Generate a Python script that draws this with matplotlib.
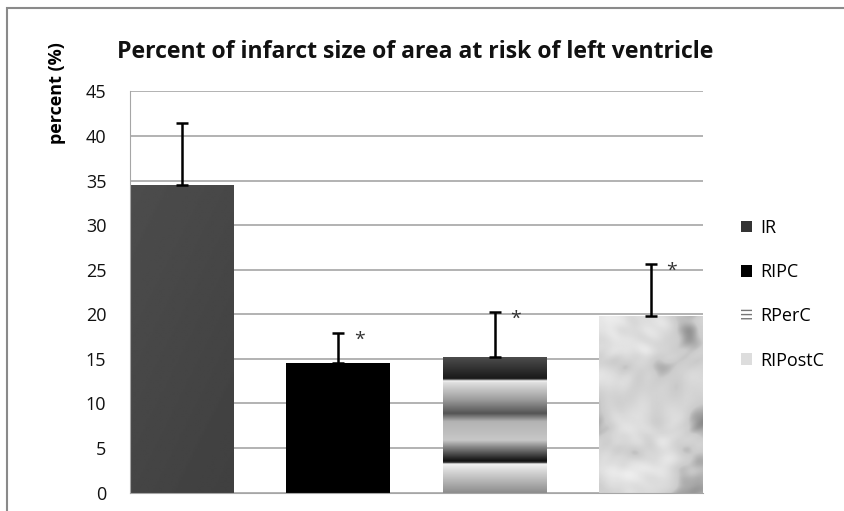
import matplotlib.pyplot as plt
import numpy as np
from matplotlib.patches import Patch, Rectangle

plt.rcParams['font.family'] = ['Open Sans', 'DejaVu Sans']

# data
groups = ['IR', 'RIPC', 'RPerC', 'RIPostC']
means = [34.5, 14.55, 15.2, 19.8]
errors = [7.0, 3.4, 5.1, 5.8]
stars = ['', '*', '*', '*']
yticks = [0, 5, 10, 15, 20, 25, 30, 35, 40, 45]

fig = plt.figure(figsize=(8.45, 5.11), dpi=100)
ax = fig.add_axes([130 / 845, 1 - 492.5 / 511, 573 / 845, 401 / 511])

x = np.arange(len(groups))
width = 0.665
bars = ax.bar(x, means, width=width, color=['#464646', '#000000', '#9a9a9a', '#d8d8d8'],
              zorder=2, label=groups)
ax.errorbar(x, means, yerr=[np.zeros(len(errors)), errors], fmt='none', ecolor='black',
            elinewidth=1.8, capsize=4.3, capthick=1.8, zorder=3)
for xi, m, e, s in zip(x, means, errors, stars):
    if s:
        ax.annotate(s, (xi, m + e), xytext=(15, -8.5), textcoords='offset points',
                    fontsize=14, color='#333333', ha='center', va='baseline', zorder=4)

# fills for the bars (drawn as images clipped to each bar)
def fill_bar(bar, img, cmap='gray'):
    x0, y0 = bar.get_x(), bar.get_y()
    im = ax.imshow(img, cmap=cmap, vmin=0, vmax=1, aspect='auto', interpolation='bilinear',
                   extent=[x0, x0 + bar.get_width(), y0, y0 + bar.get_height()],
                   origin='lower', zorder=2.5)
    im.set_clip_path(bar)

# IR: dark gray, slight shading
gx = np.linspace(0, 1, 60)
gy = np.linspace(0, 1, 200)
XX, YY = np.meshgrid(gx, gy)
fill_bar(bars[0], 0.27 + 0.03 * YY - 0.02 * XX)

# RPerC: horizontal banded gradient
h = means[2]
vals = np.linspace(0, h, 400)
kp_v = [0, 2.6, 3.25, 3.4, 3.6, 5.2, 5.9, 8.0, 8.9, 10.5, 12.4, 12.55, 12.7, 12.8, 14.0, 15.2]
kp_g = [0.55, 0.86, 0.95, 0.2, 0.07, 0.55, 0.78, 0.7, 0.33, 0.62, 0.88, 0.97, 0.4, 0.1, 0.2, 0.3]
band = np.interp(vals, kp_v, kp_g)
fill_bar(bars[2], np.tile(band[:, None], (1, 10)))

# RIPostC: pale cloudy marble texture built from layered, warped waves
mx = np.linspace(0, 1, 120)
my = np.linspace(0, 1.8, 210)
MX, MY = np.meshgrid(mx, my)
swirl = np.zeros_like(MX)
for k in range(1, 16):
    ang = k * 2.39996
    freq = 5 + 1.6 * k
    warp = 0.12 * np.sin(MY * (4 + k % 5) + k) + 0.1 * np.sin(MX * (5 + k % 3) - 2 * k)
    swirl += np.sin(freq * (MX * np.cos(ang) + MY * np.sin(ang) + warp) + k * 1.7) / k ** 0.8
swirl /= np.abs(swirl).max()
marble = 0.83 + 0.1 * swirl - 0.35 * np.clip(-swirl - 0.3, 0, None)
fill_bar(bars[3], np.clip(marble, 0.45, 0.98))

ax.set_xlim(-width / 2, len(groups) - 1 + width / 2)
ax.set_ylim(0, 45)
ax.set_yticks(yticks)
ax.set_xticks([])
ax.tick_params(axis='y', length=0, labelsize=13, pad=17, colors='#111111')
ax.grid(axis='y', color='#a6a6a6', linewidth=1.2, zorder=0)
for side in ['top', 'right']:
    ax.spines[side].set_visible(False)
ax.spines['left'].set_color('#a6a6a6')
ax.spines['bottom'].set_color('#a6a6a6')

ax.set_ylabel('percent (%)', fontsize=13, fontweight='bold', va='center')
ax.yaxis.set_label_coords(-0.128, 0.995)

fig.text(117 / 845, 1 - 58 / 511, 'Percent of infarct size of area at risk of left ventricle',
         fontsize=16.6, fontweight='bold', ha='left', va='baseline', color='#111111')

handles = [Patch(facecolor='#333333'), Patch(facecolor='black'),
           Patch(facecolor='white', edgecolor='#777777', hatch='----', linewidth=0),
           Patch(facecolor='#dddddd')]
fig.legend(handles, groups, loc='upper left', bbox_to_anchor=(741 / 845, 1 - 219 / 511),
           frameon=False, fontsize=13, handlelength=0.6, handleheight=0.6,
           handletextpad=0.45, labelspacing=1.45, borderpad=0, borderaxespad=0)

# outer chart frame
fig.patches.append(Rectangle((7 / 845, -0.1), 1.2, 1 - 8 / 511 + 0.1, transform=fig.transFigure,
                             fill=False, edgecolor='#8a8a8a', linewidth=1.5))

fig.savefig('out.png', dpi=100)
